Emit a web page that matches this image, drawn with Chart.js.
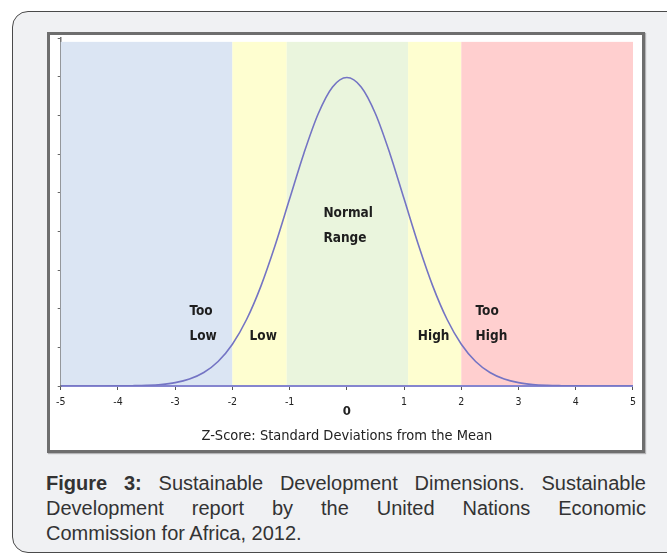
<!DOCTYPE html>
<html>
<head>
<meta charset="utf-8">
<script src="https://cdn.jsdelivr.net/npm/chart.js@4.4.1/dist/chart.umd.min.js"></script>
<style>
  html, body { margin: 0; padding: 0; background: #ffffff; width: 667px; height: 554px; overflow: hidden; }
  .karta {
    position: absolute; left: 12px; top: 11px; width: 690px; height: 542px;
    background: #f0f1f3; border: 1.5px solid #4a4a4a; border-radius: 16px; box-sizing: border-box;
  }
  .obrazek {
    position: absolute; left: 47px; top: 32px; width: 598px; height: 421px;
    background: #ffffff; border: 3px solid #6e6e6e; box-sizing: border-box;
    box-shadow: 1px 1px 1px rgba(0,0,0,0.25);
  }
  #graf { position: absolute; left: 0; top: 0; }
  .popisek {
    position: absolute; left: 46px; top: 471px; width: 600px;
    font-family: "Liberation Sans", Arial, sans-serif; font-size: 20px; line-height: 25px;
    color: #333333;
  }
  .popisek div { text-align: justify; text-align-last: justify; white-space: nowrap; }
  .popisek div.posledni { text-align-last: left; }
</style>
</head>
<body>
<div class="karta"></div>
<div class="obrazek"><canvas id="graf" width="592" height="415"></canvas></div>
<div class="popisek">
  <div><b>Figure 3:</b> Sustainable Development Dimensions. Sustainable</div>
  <div>Development report by the United Nations Economic</div>
  <div class="posledni">Commission for Africa, 2012.</div>
</div>

<script>
// --- DATA ---
const zHodnoty = [-5, -4.75, -4.5, -4.25, -4, -3.75, -3.5, -3.25, -3, -2.75, -2.5, -2.25, -2, -1.75, -1.5, -1.25, -1, -0.75, -0.5, -0.25,
  0, 0.25, 0.5, 0.75, 1, 1.25, 1.5, 1.75, 2, 2.25, 2.5, 2.75, 3, 3.25, 3.5, 3.75, 4, 4.25, 4.5, 4.75, 5];
const vyskyKrivky = [0, 0, 0, 0, 0.0001, 0.0004, 0.0009, 0.002, 0.0044, 0.0091, 0.0175, 0.0317, 0.054, 0.0863, 0.1295, 0.1826, 0.242, 0.3011, 0.3521, 0.3867,
  0.3989, 0.3867, 0.3521, 0.3011, 0.242, 0.1826, 0.1295, 0.0863, 0.054, 0.0317, 0.0175, 0.0091, 0.0044, 0.002, 0.0009, 0.0004, 0.0001, 0, 0, 0, 0];
const pasmaOd = [-5, -2, -1.05, 1.07, 2];
const pasmaDo = [-2, -1.05, 1.07, 2, 5];
const pasmaBarvy = ['#dbe5f3', '#fefed0', '#eaf5dd', '#fefed0', '#ffcfcf'];
const pasmaVrch = 0.445;
const popiskyTexty = [['Too', 'Low'], ['Low'], ['Normal', 'Range'], ['High'], ['Too', 'High']];
const popiskyZ = [-2.75, -1.7, -0.41, 1.24, 2.25];
const popiskyY = [0.096, 0.0635, 0.223, 0.0635, 0.096];
const osaXTitulek = 'Z-Score: Standard Deviations from the Mean';

const uzkePismo = '"Liberation Sans Narrow", "DejaVu Sans Condensed", "Roboto Condensed", sans-serif';

// --- PLUGIN: barevna pasma a popisky ---
const pasmaPlugin = {
  id: 'pasma',
  beforeDatasetsDraw(chart) {
    const ctx = chart.ctx, x = chart.scales.x, y = chart.scales.y;
    ctx.save();
    pasmaOd.forEach((od, i) => {
      const x1 = x.getPixelForValue(od), x2 = x.getPixelForValue(pasmaDo[i]);
      const y1 = y.getPixelForValue(pasmaVrch), y2 = y.getPixelForValue(0) - 1;
      ctx.fillStyle = pasmaBarvy[i];
      ctx.fillRect(x1, y1, x2 - x1, y2 - y1);
    });
    ctx.restore();
  },
  afterDatasetsDraw(chart) {
    const ctx = chart.ctx, x = chart.scales.x, y = chart.scales.y;
    ctx.save();
    ctx.font = 'bold 13.5px ' + uzkePismo;
    ctx.fillStyle = '#1e1e1e';
    ctx.textAlign = 'left';
    ctx.textBaseline = 'middle';
    popiskyTexty.forEach((radky, i) => {
      const px = x.getPixelForValue(popiskyZ[i]);
      const py = y.getPixelForValue(popiskyY[i]);
      radky.forEach((t, j) => ctx.fillText(t, px, py + j * 25));
    });
    ctx.restore();
  }
};

// --- GRAF ---
const mujGraf = new Chart(document.getElementById('graf'), {
  type: 'line',
  data: {
    labels: zHodnoty,
    datasets: [{
      data: zHodnoty.map((z, i) => ({ x: z, y: vyskyKrivky[i] })),
      borderColor: '#7474c4',
      borderWidth: 1.6,
      pointRadius: 0,
      cubicInterpolationMode: 'monotone',
      fill: false
    }]
  },
  options: {
    responsive: false,
    animation: false,
    layout: { padding: { left: 0, right: 8, top: 3, bottom: 0 } },
    plugins: { legend: { display: false }, tooltip: { enabled: false } },
    scales: {
      x: {
        type: 'linear', min: -5, max: 5,
        afterFit(s) { s.height = 64; },
        border: { color: '#8585cf', width: 2 },
        grid: { drawOnChartArea: false, drawTicks: true, tickLength: 4, color: '#555555' },
        ticks: {
          stepSize: 1, padding: 6, color: '#222222', maxRotation: 0, autoSkip: false,
          callback: v => String(v),
          font: c => (c.tick && c.tick.value === 0)
            ? { family: uzkePismo, size: 13, weight: 'bold', lineHeight: 2.35 }
            : { family: uzkePismo, size: 10.5, lineHeight: 1.2 }
        },
        title: { display: true, text: osaXTitulek, color: '#222222', font: { family: uzkePismo, size: 14.5 }, padding: { top: 0, bottom: 5 } }
      },
      y: {
        min: 0, max: 0.45,
        afterFit(s) { s.width = 7; },
        border: { color: '#777777', width: 1.5 },
        grid: { drawOnChartArea: false, drawTicks: true, tickLength: 3, color: '#666666' },
        ticks: { display: false, stepSize: 0.05 }
      }
    }
  },
  plugins: [pasmaPlugin]
});
</script>
</body>
</html>
